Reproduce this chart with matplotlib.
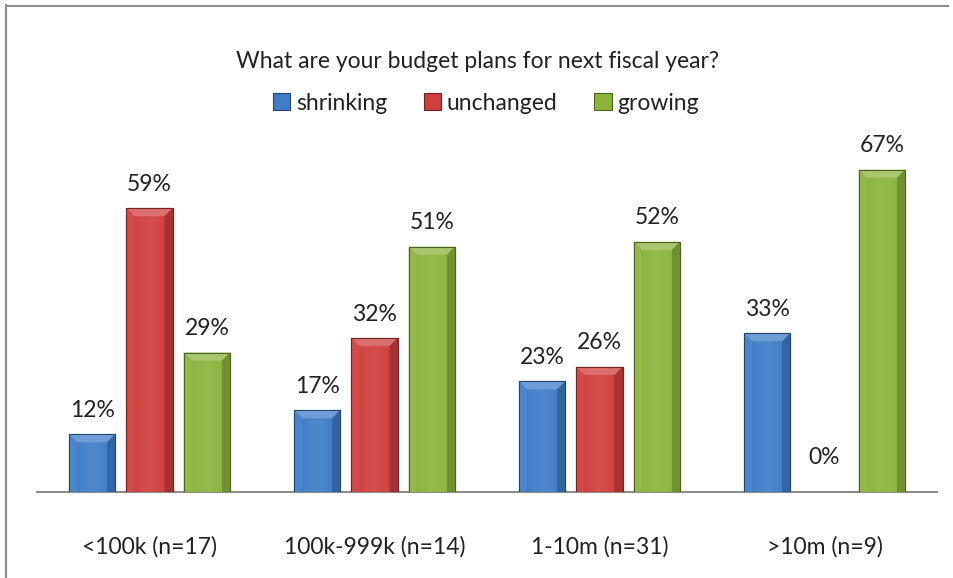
import numpy as np
import matplotlib
matplotlib.use("Agg")
import matplotlib.pyplot as plt
from matplotlib.patches import Polygon, Rectangle
from matplotlib.colors import to_rgb

plt.rcParams['font.family'] = ['Lato', 'DejaVu Sans']

title = "What are your budget plans for next fiscal year?"
categories = ["<100k (n=17)", "100k-999k (n=14)", "1-10m (n=31)", ">10m (n=9)"]
series_names = ["shrinking", "unchanged", "growing"]
shrinking = [12, 17, 23, 33]
unchanged = [59, 32, 26, 0]
growing = [29, 51, 52, 67]
series_values = [shrinking, unchanged, growing]
colors = ["#3F7DC8", "#CF3F3E", "#8CB43D"]

FS = 16.5

fig = plt.figure(figsize=(9.54, 5.78), dpi=100)
ax = fig.add_axes([37/954, 1-492/578, 900/954, (492-130)/578])
ax.set_xlim(-0.5, len(categories)-0.5)
ax.set_ylim(0, (492-130)/4.81)

def shade(c, f):
    r = np.array(to_rgb(c))
    if f >= 0:
        return tuple(r + (1-r)*f)
    return tuple(r*(1+f))

x = np.arange(len(categories))
w = 0.205
offs = [-0.255, 0, 0.255]
bx = 8/225.0
by = 8/4.81
for si, (vals, col) in enumerate(zip(series_values, colors)):
    bars = ax.bar(x + offs[si], vals, width=w, color=col, edgecolor=shade(col, -0.45),
                  linewidth=0.8, zorder=3, label=series_names[si])
    for b, v in zip(bars, vals):
        x0 = b.get_x(); x1 = x0 + b.get_width(); h = b.get_height()
        if h <= 0:
            lab_off = 34
        else:
            lab_off = 24
            grad = np.linspace(0, 1, 64)
            prof = 0.12*np.sin(np.pi*grad) - 0.15*(grad > 0.9) - 0.05
            img = np.array([[shade(col, p) for p in prof]])
            im = ax.imshow(img, extent=(x0, x1, 0, h), aspect='auto', zorder=3.1,
                           interpolation='bilinear')
            im.set_clip_path(b)
            bb = min(by, h*0.5)
            top = Polygon([(x0, h), (x1, h), (x1-bx, h-bb), (x0+bx, h-bb)], closed=True,
                          facecolor=shade(col, 0.25), edgecolor='none', zorder=3.2)
            ax.add_patch(top)
            left = Polygon([(x0, h), (x0+bx, h-bb), (x0+bx, 0), (x0, 0)], closed=True,
                           facecolor=shade(col, 0.06), edgecolor='none', zorder=3.2)
            ax.add_patch(left)
            right = Polygon([(x1, h), (x1-bx, h-bb), (x1-bx, 0), (x1, 0)], closed=True,
                            facecolor=shade(col, -0.2), edgecolor='none', zorder=3.2)
            ax.add_patch(right)
            ax.add_patch(Rectangle((x0, 0), x1-x0, h, facecolor='none',
                                   edgecolor=shade(col, -0.45), linewidth=0.8, zorder=3.3))
        ax.annotate(f"{v}%", (b.get_x()+b.get_width()/2, h), xytext=(0, lab_off),
                    textcoords='offset pixels', ha='center', va='center',
                    fontsize=FS, color='#222222', zorder=4)

for s in ['top', 'right', 'left']:
    ax.spines[s].set_visible(False)
ax.spines['bottom'].set_color('#8C8C8C')
ax.spines['bottom'].set_linewidth(1.5)
ax.set_yticks([])
ax.set_xticks(x)
ax.set_xticklabels(categories, fontsize=FS, color='#222222')
ax.tick_params(axis='x', length=0, pad=32)

fig.text(478/954, 1-62/578, title, ha='center', va='center', fontsize=FS, color='#222222')
leg = fig.legend(loc='center', bbox_to_anchor=(486/954, 1-103/578), ncol=3, frameon=False,
                 fontsize=FS, handlelength=0.75, handleheight=0.75, handletextpad=0.25,
                 columnspacing=1.6)
for t in leg.get_texts():
    t.set_color('#222222')

fig.add_artist(plt.Line2D([6.5/954, 6.5/954], [0, 1-5/578], transform=fig.transFigure,
                          color='#8C8C8C', linewidth=1.5))
fig.add_artist(plt.Line2D([6.5/954, 948/954], [1-5.5/578, 1-5.5/578], transform=fig.transFigure,
                          color='#8C8C8C', linewidth=1.5))

fig.savefig("out.png", dpi=100, facecolor='white')
